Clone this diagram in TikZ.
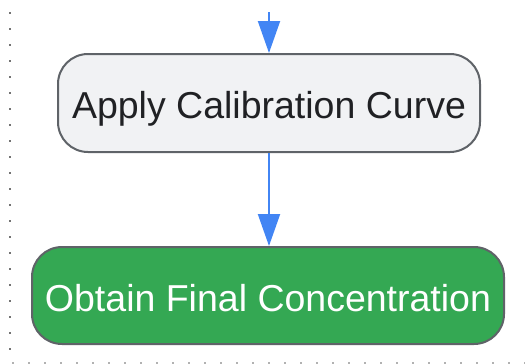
\documentclass[tikz,border=0pt]{standalone}
\usepackage{fontspec}
\setmainfont{Liberation Sans}
\usetikzlibrary{arrows.meta}
\definecolor{boxgray}{HTML}{F1F2F4}
\definecolor{edgegray}{HTML}{5F6368}
\definecolor{gblue}{HTML}{4285F4}
\definecolor{ggreen}{HTML}{34A853}
\definecolor{txtdark}{HTML}{202124}
\tikzset{
  stepbox/.style={draw=edgegray, line width=2pt, rounded corners=30pt, align=center,
    font=\fontsize{37.5}{42}\selectfont, inner sep=0pt, text height=31pt, text depth=0pt},
  flow/.style={draw=gblue, line width=2pt, -{Triangle[length=32pt,width=22pt]}},
}
\begin{document}
\begin{tikzpicture}[x=1pt,y=-1pt]
\useasboundingbox (0,0) rectangle (525,364);
\draw[gray!90!black, line width=2pt, dash pattern=on 2pt off 14pt] (10,12) -- (10,362);
\draw[gray!60, line width=1.5pt, dash pattern=on 2pt off 14pt] (12,363) -- (525,363);
\node[stepbox, fill=boxgray, text=txtdark, minimum width=422pt, minimum height=98pt] (apply) at (269,103) {Apply Calibration Curve};
\node[stepbox, fill=ggreen, text=white, minimum width=472pt, minimum height=97pt] (obtain) at (268,295.5) {Obtain Final Concentration};
\coordinate (top) at (269,12);
\draw[flow] (top) -- (apply.north);
\draw[flow] (apply.south) -- (apply.south |- obtain.north);
\end{tikzpicture}
\end{document}
